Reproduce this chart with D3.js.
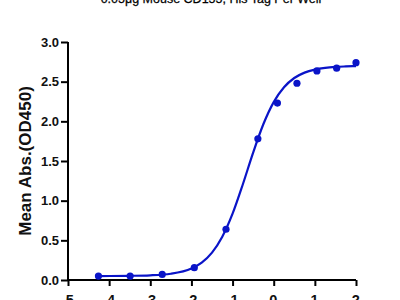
<!DOCTYPE html>
<html><head><meta charset="utf-8">
<script src="https://cdn.jsdelivr.net/npm/d3@7"></script>
<style>html,body{margin:0;padding:0;background:#fff;overflow:hidden}svg{display:block}</style>
</head><body>
<svg id="c" width="400" height="300"></svg>
<script>
const title = "0.05μg Mouse CD155, His Tag Per Well";
const yLabel = "Mean Abs.(OD450)";
const xTicks = [-5, -4, -3, -2, -1, 0, 1, 2];
const yTicks = [0, 0.5, 1.0, 1.5, 2.0, 2.5, 3.0];
const pointX = [-4.26, -3.49, -2.71, -1.93, -1.16, -0.385, 0.09, 0.565, 1.05, 1.53, 2.0];
const pointY = [0.05, 0.05, 0.07, 0.155, 0.64, 1.78, 2.23, 2.48, 2.635, 2.67, 2.74];
const curveX = [-4.26, -3.5, -3, -2.5, -2, -1.75, -1.5, -1.25, -1, -0.75, -0.5, -0.25, 0, 0.25, 0.5, 0.75, 1, 1.25, 1.5, 1.75, 2];
const curveY = [0.050, 0.053, 0.059, 0.079, 0.145, 0.219, 0.345, 0.545, 0.836, 1.207, 1.606, 1.966, 2.242, 2.429, 2.546, 2.614, 2.652, 2.674, 2.686, 2.692, 2.696];

const svg = d3.select("#c");
const x = d3.scaleLinear().domain([-5, 2]).range([68, 356]);
const y = d3.scaleLinear().domain([0, 3]).range([280, 42]);
const blue = "#0a14c8";

svg.append("text").attr("x", 211).attr("y", 3).attr("text-anchor", "middle")
  .attr("font-family", "Liberation Sans, Arial, sans-serif").attr("font-size", 12.5)
  .attr("fill", "#000").attr("stroke", "#000").attr("stroke-width", 0.25).text(title);

const yAxis = svg.append("g").attr("transform", "translate(68,0)")
  .call(d3.axisLeft(y).tickValues(yTicks).tickFormat(d3.format(".1f")).tickSize(7).tickPadding(2));
const xAxis = svg.append("g").attr("transform", "translate(0,280)")
  .call(d3.axisBottom(x).tickValues(xTicks).tickFormat(d => d < 0 ? "-" + Math.abs(d) : String(d)).tickSize(6).tickPadding(6));

[yAxis, xAxis].forEach(g => {
  g.select(".domain").attr("stroke", "#000").attr("stroke-width", 2);
  g.selectAll(".tick line").attr("stroke", "#000").attr("stroke-width", 2);
  g.selectAll("text").attr("font-family", "Liberation Sans, Arial, sans-serif")
    .attr("font-size", 13).attr("font-weight", "bold").attr("fill", "#111");
});
yAxis.select(".domain").attr("d", "M0,280V42");
xAxis.select(".domain").attr("d", "M68,0H356");
xAxis.selectAll(".tick text").attr("font-size", 14.5).attr("text-anchor", "end").attr("dy", null).attr("y", 24.8)
  .attr("dx", d => d < 0 ? 5.4 : 3.2);

svg.append("text").attr("transform", "translate(31,161) rotate(-90)").attr("text-anchor", "middle")
  .attr("font-family", "Liberation Sans, Arial, sans-serif").attr("font-size", 17).attr("font-weight", "bold")
  .attr("fill", "#111").text(yLabel);

const curve = curveX.map((v, i) => [v, curveY[i]]);
svg.append("path").datum(curve)
  .attr("d", d3.line().x(d => x(d[0])).y(d => y(d[1])).curve(d3.curveMonotoneX))
  .attr("fill", "none").attr("stroke", blue).attr("stroke-width", 2.2);

svg.selectAll("circle.p").data(pointX.map((v, i) => [v, pointY[i]])).join("circle")
  .attr("class", "p").attr("cx", d => x(d[0])).attr("cy", d => y(d[1])).attr("r", 3.6).attr("fill", blue);
</script>
</body></html>
